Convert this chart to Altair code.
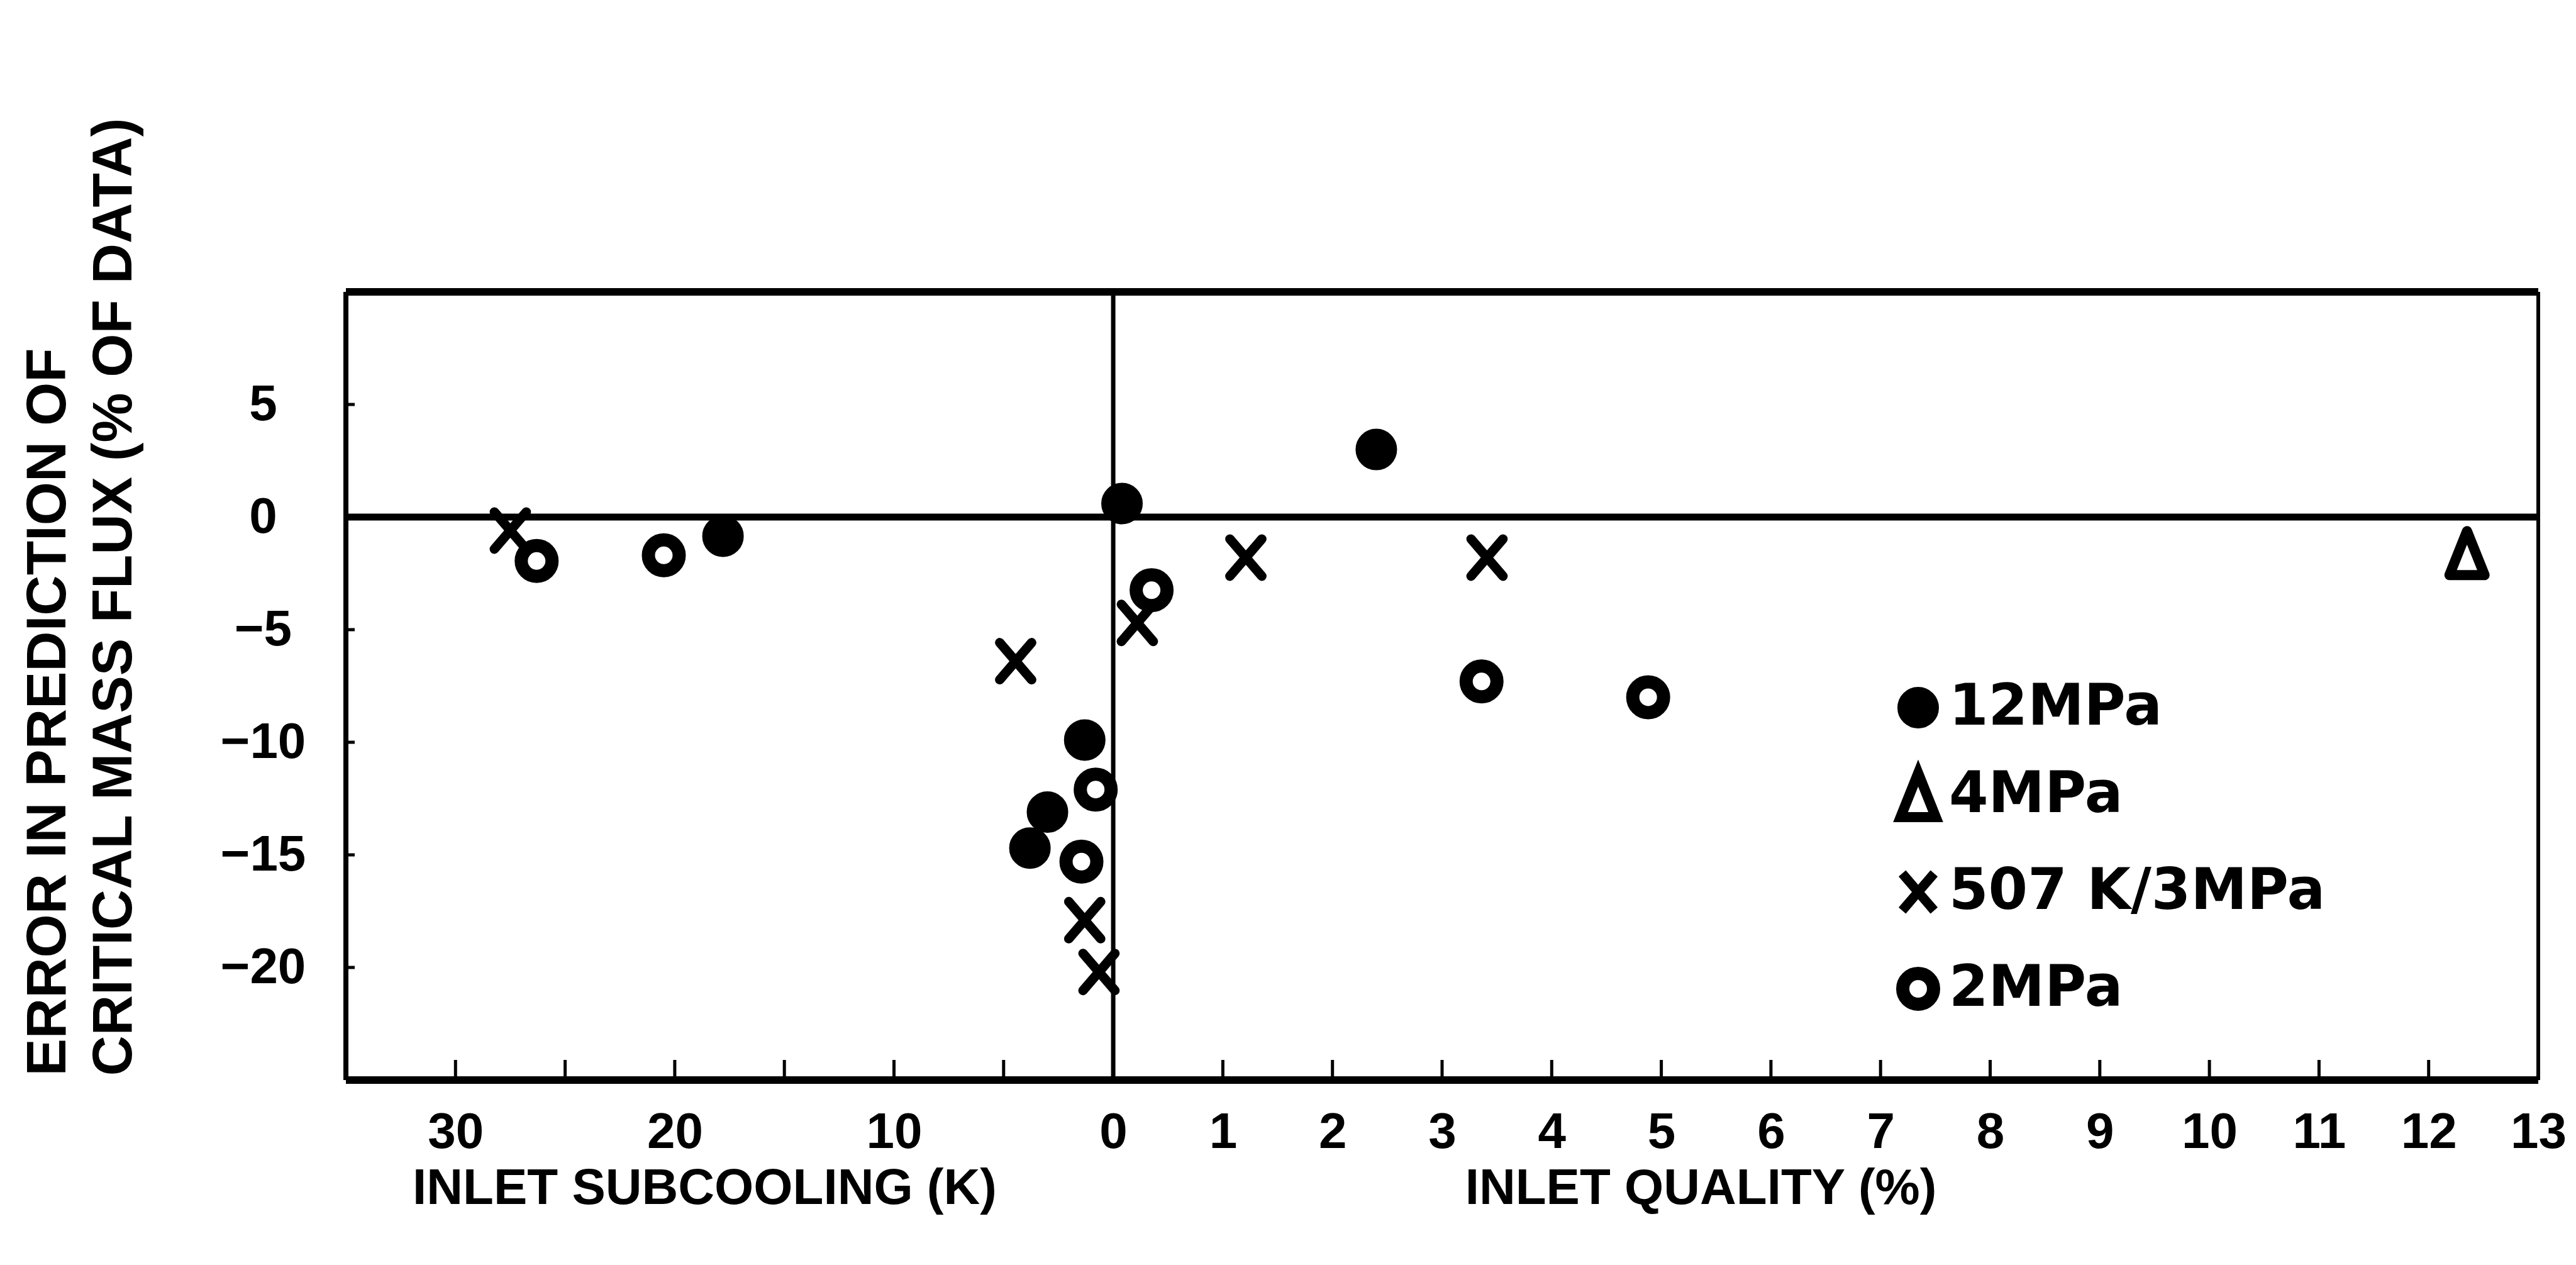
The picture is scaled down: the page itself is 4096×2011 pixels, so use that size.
import altair as alt
import pandas as pd

# plot area (pixels) at 0.757 of the reference
W, H = 3486, 1253

SERIES = ["12MPa", "4MPa", "507 K/3MPa", "2MPa"]

# side "K": inlet subcooling (K); side "Q": inlet quality (%)
mpa12_side = ["K", "K", "K", "K", "Q", "Q"]
mpa12_x = [17.8, 1.3, 3.0, 3.8, 0.08, 2.40]
mpa12_err = [-0.85, -9.9, -13.1, -14.7, 0.6, 3.0]

mpa4_side = ["Q"]
mpa4_x = [12.35]
mpa4_err = [-1.6]

k507_side = ["K", "K", "K", "K", "Q", "Q", "Q"]
k507_x = [27.5, 4.45, 1.3, 0.65, 0.22, 1.21, 3.41]
k507_err = [-0.6, -6.4, -17.9, -20.2, -4.7, -1.8, -1.8]

mpa2_side = ["K", "K", "K", "K", "Q", "Q", "Q"]
mpa2_x = [26.3, 20.5, 0.8, 1.45, 0.35, 3.36, 4.88]
mpa2_err = [-1.95, -1.7, -12.1, -15.3, -3.25, -7.3, -8.0]

subcooling_labels = [30, 20, 10]
quality_labels = list(range(0, 14))
subcooling_minor = [30, 25, 20, 15, 10, 5]
quality_minor = list(range(1, 13))
error_ticks = [5, 0, -5, -10, -15, -20]

# 5 K of subcooling share the width of 1 % of quality on the common axis
def to_u(side, v):
    return -v / 5.0 if side == "K" else v

rows = []
for name, sides, xs, errs in [
    ("12MPa", mpa12_side, mpa12_x, mpa12_err),
    ("4MPa", mpa4_side, mpa4_x, mpa4_err),
    ("507 K/3MPa", k507_side, k507_x, k507_err),
    ("2MPa", mpa2_side, mpa2_x, mpa2_err),
]:
    for s, v, e in zip(sides, xs, errs):
        rows.append({"series": name, "u": to_u(s, v), "err": e})
df = pd.DataFrame(rows)

label_values = [to_u("K", k) for k in subcooling_labels] + quality_labels
minor_u = [to_u("K", k) for k in subcooling_minor] + quality_minor

FONT = "Liberation Sans"
xscale = alt.Scale(domain=[-7, 13], nice=False, zero=False)
yscale = alt.Scale(domain=[-25, 10], nice=False, zero=False)

legend = alt.Legend(
    orient="none", legendX=2455, legendY=616, title=None,
    labelFont="DejaVu Sans", labelFontWeight="bold", labelFontSize=90,
    labelColor="black", labelOffset=4, rowPadding=27, padding=0,
    labelLimit=0, symbolStrokeColor="black",
)

xaxis_sub = alt.Axis(
    values=label_values,
    labelExpr="datum.value < 0 ? format(-5 * datum.value, 'd') : format(datum.value, 'd')",
    ticks=False, domain=False, grid=False, labelOverlap=False, labelFlush=False,
    labelFont=FONT, labelFontWeight="bold", labelFontSize=80, labelColor="black",
    labelPadding=44,
    title="INLET SUBCOOLING (K)", titleX=570, titleY=196, titleAlign="center",
    titleBaseline="alphabetic", titleFont=FONT, titleFontWeight="bold",
    titleFontSize=80, titleColor="black", orient="bottom",
)
xaxis_qual = alt.Axis(
    labels=False, ticks=False, domain=False, grid=False,
    title="INLET QUALITY (%)", titleX=2154, titleY=196, titleAlign="center",
    titleBaseline="alphabetic", titleFont=FONT, titleFontWeight="bold",
    titleFontSize=80, titleColor="black", orient="bottom",
)
yaxis = alt.Axis(
    values=error_ticks, ticks=False, domain=False, grid=False,
    labelFont=FONT, labelFontWeight="bold", labelFontSize=80, labelColor="black",
    labelAlign="center", labelPadding=132,
    title=["ERROR IN PREDICTION OF", "CRITICAL MASS FLUX (% OF DATA)"],
    titleAngle=270, titleAlign="left", titleBaseline="top",
    titleX=-517, titleY=1246, titleLineHeight=105,
    titleFont=FONT, titleFontWeight="bold", titleFontSize=89, titleColor="black",
)

points = alt.Chart(df).mark_point(
    opacity=1, strokeCap="round", strokeJoin="round"
).encode(
    x=alt.X("u:Q", scale=xscale, axis=xaxis_sub),
    y=alt.Y("err:Q", scale=yscale, axis=yaxis),
    shape=alt.Shape("series:N", scale=alt.Scale(domain=SERIES, range=[
        "circle", "M0,-1L0.8,1L-0.8,1Z", "M-0.86,-1L0.86,1M0.86,-1L-0.86,1", "circle"]),
        legend=legend),
    fill=alt.Fill("series:N", scale=alt.Scale(domain=SERIES, range=[
        "black", "white", "transparent", "white"]), legend=legend),
    stroke=alt.Stroke("series:N", scale=alt.Scale(domain=SERIES, range=[
        "black", "black", "black", "black"]), legend=legend),
    size=alt.Size("series:N", scale=alt.Scale(type="ordinal", domain=SERIES, range=[
        4100, 4900, 3481, 2400]), legend=legend),
    strokeWidth=alt.StrokeWidth("series:N", scale=alt.Scale(type="ordinal", domain=SERIES, range=[
        2, 16, 15, 21]), legend=legend),
)

def hrule(value, width):
    return alt.Chart(pd.DataFrame({"err": [value]})).mark_rule(
        color="black", strokeWidth=width
    ).encode(y=alt.Y("err:Q", scale=yscale, axis=yaxis))

def vrule(value, width):
    return alt.Chart(pd.DataFrame({"u": [value]})).mark_rule(
        color="black", strokeWidth=width
    ).encode(x=alt.X("u:Q", scale=xscale, axis=None))

bottom_ticks = alt.Chart(pd.DataFrame({"u": minor_u})).mark_rule(
    color="black", strokeWidth=5
).encode(
    x=alt.X("u:Q", scale=xscale, axis=xaxis_qual),
    y=alt.value(H - 32), y2=alt.value(H),
)
left_ticks = alt.Chart(pd.DataFrame({"err": error_ticks})).mark_rule(
    color="black", strokeWidth=5
).encode(
    y=alt.Y("err:Q", scale=yscale, axis=yaxis),
    x=alt.value(0), x2=alt.value(14),
)

chart = alt.layer(
    hrule(10, 12), hrule(-25, 12), hrule(0, 11),
    vrule(-7, 8), vrule(13, 6), vrule(0, 7),
    bottom_ticks, left_ticks, points,
).resolve_axis(x="independent").properties(
    width=W, height=H, background="white",
    autosize=alt.AutoSizeParams(type="none"),
    padding={"left": 550, "top": 464, "right": 60, "bottom": 294},
).configure_view(strokeWidth=0)

chart.save("out.html", embed_options={"renderer": "svg", "actions": False})
